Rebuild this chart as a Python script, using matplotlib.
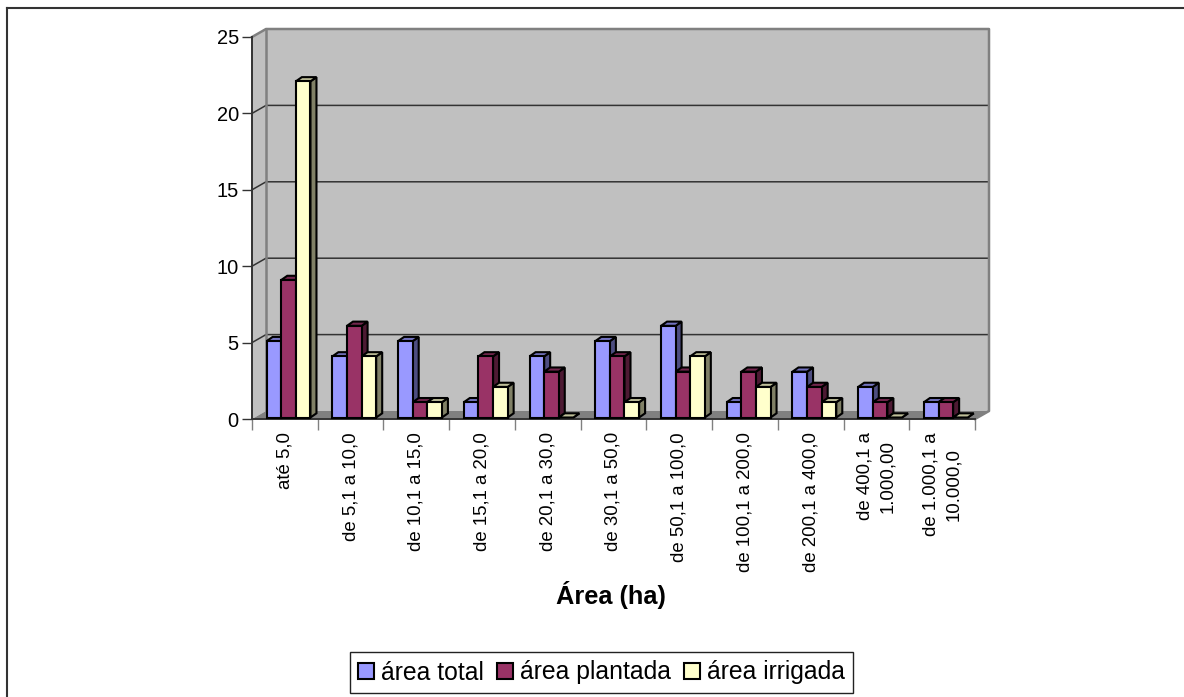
import matplotlib
matplotlib.use("Agg")
import matplotlib.pyplot as plt
from matplotlib.patches import Patch

plt.rcParams['font.family'] = ['Liberation Sans', 'DejaVu Sans']

# === Data ===
categories = ["até 5,0", "de 5,1 a 10,0", "de 10,1 a 15,0", "de 15,1 a 20,0",
              "de 20,1 a 30,0", "de 30,1 a 50,0", "de 50,1 a 100,0",
              "de 100,1 a 200,0", "de 200,1 a 400,0",
              "de 400,1 a\n1.000,00", "de 1.000,1 a\n10.000,0"]
area_total = [5, 4, 5, 1, 4, 5, 6, 1, 3, 2, 1]
area_plantada = [9, 6, 1, 4, 3, 4, 3, 3, 2, 1, 1]
area_irrigada = [22, 4, 1, 2, 0, 1, 4, 2, 1, 0, 0]
series_names = ["área total", "área plantada", "área irrigada"]
y_ticks = [0, 5, 10, 15, 20, 25]

# front, top, side colours of each series
front_colors = ["#9999FF", "#993366", "#FFFFCC"]
top_colors = ["#7373BF", "#73264D", "#BFBF99"]
side_colors = ["#4D4D80", "#4D1A33", "#808066"]

W, H = 1184, 697
fig = plt.figure(figsize=(W / 100, H / 100), dpi=100)
ax = fig.add_axes([252 / W, 1 - 419 / H, 723 / W, 382 / H])
n = len(categories)
ax.set_xlim(0, n)
ax.set_ylim(0, 25)

# pseudo 3D depth, in data units
depth_x = 14 / 65.7
depth_y = 8 / 15.28
bar_w = 14.6 / 65.7
bar_start = 0.2
bar_dx = 6 / 65.7
bar_dy = 4.2 / 15.28
bar_shift_x = 1.5 / 65.7
bar_shift_y = 1.5 / 15.28

wall = "#C0C0C0"
wall_edge = "#808080"
grid_c = "#333333"

# walls and floor
ax.fill([depth_x, n + depth_x, n + depth_x, depth_x],
        [depth_y, depth_y, 25 + depth_y, 25 + depth_y],
        color=wall, zorder=1, clip_on=False, lw=0)
ax.fill([0, depth_x, depth_x, 0], [0, depth_y, 25 + depth_y, 25],
        color=wall, zorder=1, clip_on=False, lw=0)
ax.fill([0, n, n + depth_x, depth_x], [0, 0, depth_y, depth_y],
        color=wall_edge, zorder=1, clip_on=False, lw=0)

# gridlines run along the back wall and down the side wall
for t in y_ticks[1:-1]:
    ax.plot([0, depth_x, n + depth_x], [t, t + depth_y, t + depth_y],
            color=grid_c, lw=1.1, zorder=2, clip_on=False)

# wall outline
ax.plot([0, depth_x, n + depth_x, n + depth_x, n],
        [25, 25 + depth_y, 25 + depth_y, depth_y, 0],
        color=wall_edge, lw=1.8, zorder=2, clip_on=False)
ax.plot([depth_x, depth_x], [depth_y, 25 + depth_y],
        color=wall_edge, lw=1.8, zorder=2, clip_on=False)

# bars, left to right so that each one covers the side of the previous one
all_series = [area_total, area_plantada, area_irrigada]
z = 3
for i in range(n):
    for s, values in enumerate(all_series):
        v = values[i]
        x0 = i + bar_start + s * bar_w + bar_shift_x
        x1 = x0 + bar_w
        y0 = bar_shift_y
        y1 = v + bar_shift_y
        ax.fill([x1, x1 + bar_dx, x1 + bar_dx, x1],
                [y0, y0 + bar_dy, y1 + bar_dy, y1],
                facecolor=side_colors[s], edgecolor="black", lw=1.5, zorder=z, clip_on=False)
        ax.fill([x0, x1, x1 + bar_dx, x0 + bar_dx],
                [y1, y1, y1 + bar_dy, y1 + bar_dy],
                facecolor=top_colors[s], edgecolor="black", lw=1.5, zorder=z, clip_on=False)
        if v > 0:
            ax.fill([x0, x1, x1, x0], [y0, y0, y1, y1],
                    facecolor=front_colors[s], edgecolor="black", lw=1.5, zorder=z, clip_on=False)
        z += 1

# axes
for name in ["top", "right"]:
    ax.spines[name].set_visible(False)
for name in ["left", "bottom"]:
    ax.spines[name].set_color(grid_c)
    ax.spines[name].set_linewidth(1.4)
    ax.spines[name].set_zorder(2)
ax.patch.set_visible(False)

ax.set_yticks(y_ticks)
ax.tick_params(axis='y', length=7, width=1, color=grid_c, pad=2.5, labelsize=14.4)
ax.set_xticks(range(n + 1))
ax.set_xticklabels([])
ax.tick_params(axis='x', which='major', length=8, width=1, color=wall_edge)
ax.set_xticks([i + 0.5 for i in range(n)], minor=True)
ax.set_xticklabels(categories, minor=True, rotation=90, fontsize=13.4, ha='center',
                   va='top', multialignment='center', linespacing=1.48)
ax.tick_params(axis='x', which='minor', length=0, pad=9.5)

fig.text(611 / W, 1 - 595 / H, "Área (ha)", fontsize=18.3, fontweight='bold',
         ha='center', va='center')

# frame lines at the top and left of the chart area
fig.add_artist(plt.Line2D([6.5 / W, 1184 / W], [1 - 7.5 / H, 1 - 7.5 / H], color="#333333", lw=1.5))
fig.add_artist(plt.Line2D([6.5 / W, 6.5 / W], [1 - 7.5 / H, 0], color="#333333", lw=1.5))

handles = [Patch(facecolor=c, edgecolor="black", lw=1.5) for c in front_colors]
leg = fig.legend(handles, series_names, ncols=3, loc='center',
                 bbox_to_anchor=(601.5 / W, 1 - 672.5 / H), fontsize=17.8,
                 handlelength=0.65, handleheight=0.65, handletextpad=0.3,
                 columnspacing=0.5, fancybox=False, edgecolor="#222222",
                 framealpha=1, borderpad=0.33, borderaxespad=0)
leg.get_frame().set_linewidth(1.0)

fig.savefig("out.png", dpi=100)
